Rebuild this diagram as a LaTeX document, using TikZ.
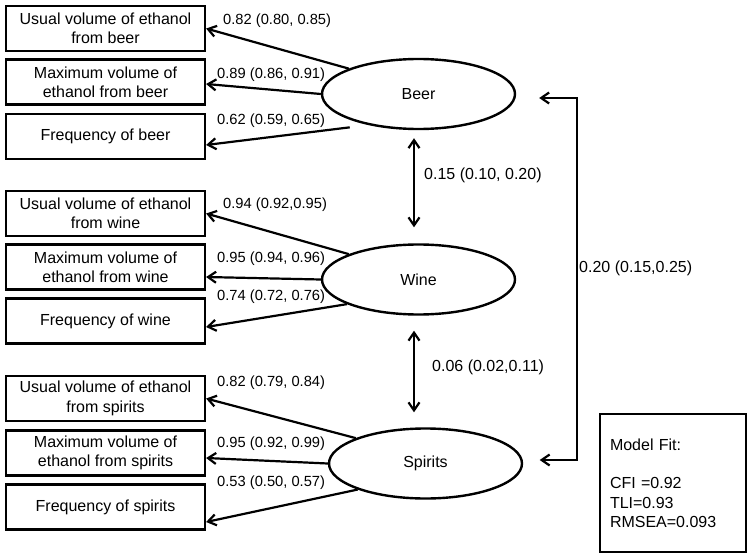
\documentclass[tikz,border=0pt]{standalone}
\usepackage{fontspec}
\setmainfont{Liberation Sans}
\usetikzlibrary{arrows.meta,shapes.geometric}
\begin{document}
\begin{tikzpicture}[x=1pt,y=-1pt,
  every node/.style={inner sep=0pt},
  obs/.style={draw,rectangle,line width=2.2pt,minimum width=199pt,minimum height=45pt,align=center,font=\fontsize{16}{19.3}\selectfont},
  lat/.style={draw,ellipse,line width=2.4pt,minimum width=193pt,minimum height=70pt,font=\fontsize{16}{19.3}\selectfont},
  load/.style={anchor=west,font=\fontsize{14.7}{17}\selectfont},
  corr/.style={anchor=west,font=\fontsize{16}{19}\selectfont},
  conn/.style={line width=2.2pt,-{Straight Barb[length=8pt,width=11pt]}},
  dconn/.style={line width=2.2pt,{Straight Barb[length=8pt,width=11pt]}-{Straight Barb[length=8pt,width=11pt]}},
]
\useasboundingbox (0,0) rectangle (752,559);

% observed boxes
\node[obs] (b1) at (105.5,28.5) {Usual volume of ethanol\\from beer};
\node[obs] (b2) at (105.5,82) {Maximum volume of\\ethanol from beer};
\node[obs] (b3) at (105.5,136.5) {Frequency of beer};
\node[obs] (w1) at (105.5,213.5) {Usual volume of ethanol\\from wine};
\node[obs] (w2) at (105.5,267) {Maximum volume of\\ethanol from wine};
\node[obs] (w3) at (105.5,321) {Frequency of wine};
\node[obs] (s1) at (105.5,398.5) {Usual volume of ethanol\\from spirits};
\node[obs] (s2) at (105.5,453) {Maximum volume of\\ethanol from spirits};
\node[obs] (s3) at (105.5,507) {Frequency of spirits};

% latent ellipses
\node[lat] (beer) at (418.5,94) {Beer};
\node[lat] (wine) at (418.5,279.5) {Wine};
\node[lat] (spirits) at (425.5,463.5) {Spirits};

% loadings
\draw[conn] (beer.160) -- (b1.east);
\draw[conn] (beer.west) -- ([yshift=-2pt]b2.east);
\draw[conn] ([xshift=-8pt,yshift=-5pt]beer.205) -- ([yshift=-8.5pt]b3.east);
\draw[conn] (wine.160) -- (w1.east);
\draw[conn] (wine.west) -- ([yshift=-10pt]w2.east);
\draw[conn] (wine.199.5) -- ([yshift=-6pt]w3.east);
\draw[conn] (spirits.160.6) -- (s1.east);
\draw[conn] (spirits.west) -- ([yshift=-5pt]s2.east);
\draw[conn] (spirits.201) -- ([yshift=-15pt]s3.east);

\node[load] (lb1) at (223,21) {0.82 (0.80, 0.85)};
\node[load] (lb2) at (217,75) {0.89 (0.86, 0.91)};
\node[load] (lb3) at (217,121) {0.62 (0.59, 0.65)};
\node[load] (lw1) at (223,205) {0.94 (0.92,0.95)};
\node[load] (lw2) at (217,259) {0.95 (0.94, 0.96)};
\node[load] (lw3) at (217,297) {0.74 (0.72, 0.76)};
\node[load] (ls1) at (217,383) {0.82 (0.79, 0.84)};
\node[load] (ls2) at (217,444) {0.95 (0.92, 0.99)};
\node[load] (ls3) at (217,483) {0.53 (0.50, 0.57)};

% correlations
\draw[dconn] ([xshift=-4.5pt,yshift=-8pt]beer.south) -- ([xshift=-4.5pt,yshift=16pt]wine.north);
\draw[dconn] ([xshift=-4.5pt,yshift=-15pt]wine.south) -- ([xshift=-11.5pt,yshift=15pt]spirits.north);
\draw[dconn] ([xshift=23pt,yshift=-4pt]beer.east) -- ++(38,0) |- ([xshift=16.5pt,yshift=3.5pt]spirits.east);

\node[corr] (c1) at (424,175) {0.15 (0.10, 0.20)};
\node[corr] (c2) at (432,367) {0.06 (0.02,0.11)};
\node[corr] (c3) at (579,268) {0.20 (0.15,0.25)};

% model fit
\node[draw,line width=2.2pt,minimum width=146pt,minimum height=138pt,text width=126pt,inner xsep=10pt,align=left,font=\fontsize{16}{19.3}\selectfont] (fit) at (673,483) {Model Fit:\\[19.3pt]CFI =0.92\\TLI=0.93\\RMSEA=0.093};
\end{tikzpicture}
\end{document}
